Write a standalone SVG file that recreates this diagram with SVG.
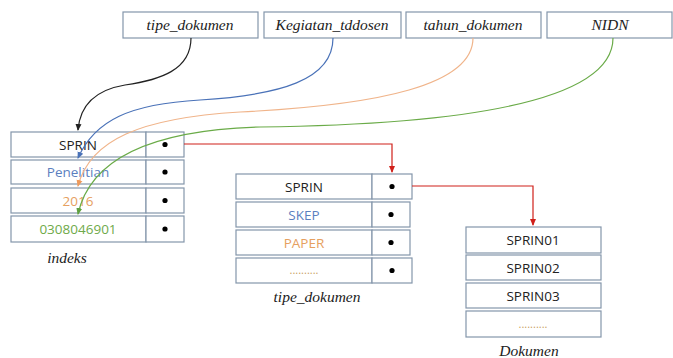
<svg xmlns="http://www.w3.org/2000/svg" width="673" height="358" viewBox="0 0 673 358">
<defs>
<style>
.box{fill:#fff;stroke:#8496ab;stroke-width:1.2}
.hdr{font-family:"Liberation Serif",serif;font-style:italic;font-size:15.5px;fill:#222;text-anchor:middle}
.cell{font-family:"Open Sans","Liberation Sans",sans-serif;font-size:13.5px;text-anchor:middle;fill:#222}
.dots{font-family:"Open Sans","Liberation Sans",sans-serif;font-size:11px;text-anchor:middle;fill:#c8a060}
.cap{font-family:"Liberation Serif",serif;font-style:italic;font-size:15.5px;fill:#222;text-anchor:middle}
.dot{fill:#000}
.c{fill:none;stroke-width:1.2}
</style>
<marker id="aK" markerWidth="8" markerHeight="8" refX="6" refY="4" orient="auto" markerUnits="userSpaceOnUse"><path d="M0,1 L7,4 L0,7 z" fill="#222"/></marker>
<marker id="aB" markerWidth="8" markerHeight="8" refX="6" refY="4" orient="auto" markerUnits="userSpaceOnUse"><path d="M0,1 L7,4 L0,7 z" fill="#4a72b8"/></marker>
<marker id="aO" markerWidth="8" markerHeight="8" refX="6" refY="4" orient="auto" markerUnits="userSpaceOnUse"><path d="M0,1 L7,4 L0,7 z" fill="#ee9a5c"/></marker>
<marker id="aG" markerWidth="8" markerHeight="8" refX="6" refY="4" orient="auto" markerUnits="userSpaceOnUse"><path d="M0,1 L7,4 L0,7 z" fill="#5fa040"/></marker>
<marker id="aR" markerWidth="8" markerHeight="8" refX="6" refY="4" orient="auto" markerUnits="userSpaceOnUse"><path d="M0,1 L7,4 L0,7 z" fill="#d0201a"/></marker>
</defs>
<rect width="673" height="358" fill="#fff"/>

<g id="hdr-tipe"><rect class="box" x="123" y="12" width="135" height="26"/><text class="hdr" x="190" y="30">tipe_dokumen</text></g>
<g id="hdr-kegiatan"><rect class="box" x="264" y="12" width="137" height="26"/><text class="hdr" x="332" y="30">Kegiatan_tddosen</text></g>
<g id="hdr-tahun"><rect class="box" x="406" y="12" width="135" height="26"/><text class="hdr" x="473" y="30">tahun_dokumen</text></g>
<g id="hdr-nidn"><rect class="box" x="547" y="12" width="125" height="26"/><text class="hdr" x="610" y="30">NIDN</text></g>

<g id="indeks">
<rect class="box" x="11" y="132" width="135" height="25"/><rect class="box" x="146" y="132" width="38" height="25"/>
<text class="cell" x="78" y="149.5">SPRIN</text><circle class="dot" cx="165" cy="144.5" r="2.6"/>
<rect class="box" x="11" y="160" width="135" height="24"/><rect class="box" x="146" y="160" width="38" height="24"/>
<text class="cell" x="78" y="177" style="fill:#5b7fbf">Penelitian</text><circle class="dot" cx="165" cy="172" r="2.6"/>
<rect class="box" x="11" y="188" width="135" height="25"/><rect class="box" x="146" y="188" width="38" height="25"/>
<text class="cell" x="78" y="205.5" style="fill:#e6a060">2016</text><circle class="dot" cx="165" cy="200.5" r="2.6"/>
<rect class="box" x="11" y="216" width="135" height="26"/><rect class="box" x="146" y="216" width="38" height="26"/>
<text class="cell" x="78" y="234" style="fill:#6faa4a">0308046901</text><circle class="dot" cx="165" cy="229" r="2.6"/>
<text class="cap" x="67" y="263">indeks</text>
</g>

<g id="tipe_dokumen">
<rect class="box" x="236" y="174" width="136" height="25"/><rect class="box" x="372" y="174" width="40" height="25"/>
<text class="cell" x="304" y="191.5">SPRIN</text><circle class="dot" cx="392" cy="186.5" r="2.6"/>
<rect class="box" x="236" y="202" width="136" height="25"/><rect class="box" x="372" y="202" width="38" height="25"/>
<text class="cell" x="304" y="219.5" style="fill:#5b7fbf">SKEP</text><circle class="dot" cx="391" cy="214.5" r="2.6"/>
<rect class="box" x="236" y="230" width="136" height="25"/><rect class="box" x="372" y="230" width="38" height="25"/>
<text class="cell" x="304" y="247.5" style="fill:#e6a060">PAPER</text><circle class="dot" cx="391" cy="242.5" r="2.6"/>
<rect class="box" x="236" y="258" width="136" height="25"/><rect class="box" x="372" y="258" width="40" height="25"/>
<text class="dots" x="304" y="274">..........</text><circle class="dot" cx="392" cy="270.5" r="2.6"/>
<text class="cap" x="317" y="302">tipe_dokumen</text>
</g>

<g id="dokumen">
<rect class="box" x="466" y="227" width="135" height="26"/><text class="cell" x="533" y="245">SPRIN01</text>
<rect class="box" x="466" y="255" width="135" height="25"/><text class="cell" x="533" y="272.5">SPRIN02</text>
<rect class="box" x="466" y="283" width="135" height="25"/><text class="cell" x="533" y="300.5">SPRIN03</text>
<rect class="box" x="466" y="311" width="135" height="26"/><text class="dots" x="533" y="328">..........</text>
<text class="cap" x="529" y="356">Dokumen</text>
</g>

<g id="connectors">
<path class="c" stroke="#222" d="M191,38 C191,70 160,80 125,85 C95,90 80,105 78,130" marker-end="url(#aK)"/>
<path class="c" stroke="#4a72b8" stroke-width="1.5" d="M333,38 C333,80 280,95 200,100 C130,104 95,120 78,158" marker-end="url(#aB)"/>
<path class="c" stroke="#f0b48a" d="M473,38 C473,85 380,105 240,112 C140,118 90,140 78,186" marker-end="url(#aO)"/>
<path class="c" stroke="#6aab48" stroke-width="1.5" d="M613,38 C613,110 420,125 260,127 C150,130 90,160 78,214" marker-end="url(#aG)"/>
<path class="c" stroke="#d0201a" stroke-width="1.5" d="M184,144 H392 V172" marker-end="url(#aR)"/>
<path class="c" stroke="#d0201a" stroke-width="1.5" d="M412,186 H533 V225" marker-end="url(#aR)"/>
</g>
</svg>
